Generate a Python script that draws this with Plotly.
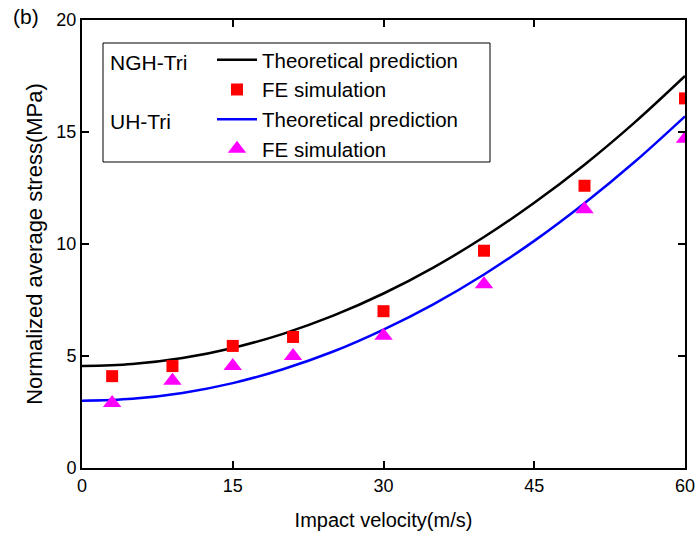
import plotly.graph_objects as go

# Theoretical prediction curves
v_curve = [0, 5, 10, 15, 20, 25, 30, 35, 40, 45, 50, 55, 60]
ngh_theory = [4.55, 4.64, 4.91, 5.36, 5.99, 6.80, 7.79, 8.96, 10.31, 11.84, 13.54, 15.43, 17.5]
uh_theory = [3.0, 3.09, 3.35, 3.79, 4.41, 5.20, 6.18, 7.32, 8.64, 10.14, 11.82, 13.67, 15.7]

# FE simulation points
v_fe = [3, 9, 15, 21, 30, 40, 50, 60]
ngh_fe = [4.1, 4.55, 5.45, 5.85, 7.0, 9.7, 12.6, 16.5]
uh_fe = [2.9, 3.9, 4.55, 5.0, 5.9, 8.2, 11.55, 14.7]

x_ticks = [0, 15, 30, 45, 60]
y_ticks = [0, 5, 10, 15, 20]

FONT = "Liberation Sans, Arial, sans-serif"

fig = go.Figure()
fig.add_trace(go.Scatter(x=v_curve, y=ngh_theory, mode="lines", name="Theoretical prediction",
                         line=dict(color="black", width=2.5, shape="spline")))
fig.add_trace(go.Scatter(x=v_fe, y=ngh_fe, mode="markers", name="FE simulation",
                         marker=dict(symbol="square", color="#ff0000", size=12)))
fig.add_trace(go.Scatter(x=v_curve, y=uh_theory, mode="lines", name="Theoretical prediction",
                         line=dict(color="#0000ff", width=2.5, shape="spline")))
fig.add_trace(go.Scatter(x=v_fe, y=uh_fe, mode="markers", name="FE simulation",
                         marker=dict(symbol="triangle-up", color="#ff00ff", size=16)))

axis_common = dict(showgrid=False, zeroline=False, showline=True, linecolor="black", linewidth=2,
                   ticks="inside", ticklen=7, tickwidth=2, tickcolor="black", mirror="ticks",
                   automargin=False,
                   tickfont=dict(family=FONT, size=18, color="black"))

fig.update_xaxes(range=[0, 60], tickvals=x_ticks,
                 title=dict(text="Impact velocity(m/s)", font=dict(family=FONT, size=20, color="black"), standoff=18),
                 **axis_common)
fig.update_yaxes(range=[0, 20], tickvals=y_ticks,
                 title=dict(text="Normalized average stress(MPa)", font=dict(family=FONT, size=22, color="black"), standoff=8),
                 **axis_common)

LEG = 20.5

fig.update_layout(
    width=696, height=538,
    margin=dict(l=82, r=11, t=20, b=70),
    plot_bgcolor="white", paper_bgcolor="white",
    font=dict(family=FONT, color="black"),
    showlegend=True,
    legend=dict(x=(212 - 82) / 603, y=1 - (40 - 20) / 448, xanchor="left", yanchor="top",
                bgcolor="rgba(0,0,0,0)", borderwidth=0,
                font=dict(family=FONT, size=LEG, color="black"),
                tracegroupgap=0, itemwidth=40),
    shapes=[dict(type="rect", xref="paper", yref="paper",
                 x0=(103 - 82) / 603, x1=(490 - 82) / 603,
                 y0=1 - (162 - 20) / 448, y1=1 - (43 - 20) / 448,
                 line=dict(color="black", width=1), fillcolor="rgba(0,0,0,0)")],
    annotations=[
        dict(text="NGH-Tri", xref="paper", yref="paper", x=(108 - 82) / 603, y=1 - (62 - 20) / 448,
             xanchor="left", yanchor="middle", showarrow=False, font=dict(family=FONT, size=21, color="black")),
        dict(text="UH-Tri", xref="paper", yref="paper", x=(108 - 82) / 603, y=1 - (121 - 20) / 448,
             xanchor="left", yanchor="middle", showarrow=False, font=dict(family=FONT, size=21, color="black")),
        dict(text="(b)", xref="paper", yref="paper", x=(11 - 82) / 603, y=1 - (17 - 20) / 448,
             xanchor="left", yanchor="middle", showarrow=False, font=dict(family=FONT, size=21, color="black")),
    ],
)

fig.write_html("out.html")
